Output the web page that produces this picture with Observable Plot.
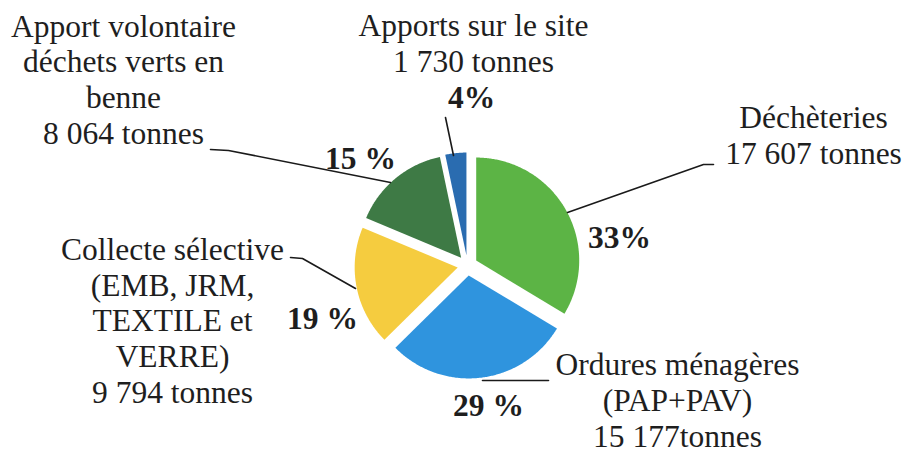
<!DOCTYPE html>
<html><head><meta charset="utf-8">
<script src="https://cdn.jsdelivr.net/npm/d3@7"></script>
<script src="https://cdn.jsdelivr.net/npm/@observablehq/plot@0.6"></script>
<style>body{margin:0;background:#fff}</style>
</head><body><div id="chart"></div>
<script>
// ---- data ----
const categories = [
  "Déchèteries",
  "Ordures ménagères (PAP+PAV)",
  "Collecte sélective (EMB, JRM, TEXTILE et VERRE)",
  "Apport volontaire déchets verts en benne",
  "Apports sur le site"
];
const tonnes = [17607, 15177, 9794, 8064, 1730];
const pctLabels = ["33%", "29 %", "19 %", "15 %", "4%"];
const labelLines = [
  ["Déchèteries", "17 607 tonnes"],
  ["Ordures ménagères", "(PAP+PAV)", "15 177tonnes"],
  ["Collecte sélective", "(EMB, JRM,", "TEXTILE et", "VERRE)", "9 794 tonnes"],
  ["Apport volontaire", "déchets verts en", "benne", "8 064 tonnes"],
  ["Apports sur le site", "1 730 tonnes"]
];
const colors = ["#5cb445", "#2f94de", "#f5cc3f", "#3e7a45", "#2a6cb0"];

// ---- layout ----
const W = 907, H = 453, CX = 467, CY = 265, R = 103, EXPLODE = 10;
const labelPos = [[813, 163], [677, 446], [172, 402], [123, 143], [473, 71]];
const pctPos = [[619, 247], [488, 415], [322, 328], [360, 168], [471, 107]];
const leaders = [
  [[713, 164], [703, 164], [567, 212]],
  [[548, 380], [482, 380]],
  [[290, 257], [302, 258], [355, 288]],
  [[210, 149], [228, 150], [390, 182]],
  [[445, 117], [453, 155]]
];

// ---- build slices ----
const arcs = d3.pie().sort(null).value(d => d)(tonnes);
const slicePts = [];
arcs.forEach((a, i) => {
  const mid = (a.startAngle + a.endAngle) / 2;
  const ox = CX + EXPLODE * Math.sin(mid), oy = CY - EXPLODE * Math.cos(mid);
  slicePts.push({name: categories[i], x: ox, y: oy});
  const n = Math.max(4, Math.ceil((a.endAngle - a.startAngle) / 0.01));
  for (let k = 0; k <= n; k++) {
    const t = a.startAngle + (a.endAngle - a.startAngle) * k / n;
    slicePts.push({name: categories[i], x: ox + R * Math.sin(t), y: oy - R * Math.cos(t)});
  }
});
const leaderPts = leaders.flatMap((pts, i) => pts.map(([x, y]) => ({id: i, x, y})));
const labels = labelLines.map((l, i) => ({text: l.join("\n"), x: labelPos[i][0], y: labelPos[i][1]}));
const pcts = pctLabels.map((t, i) => ({text: t, x: pctPos[i][0], y: pctPos[i][1]}));

const font = "'Liberation Serif', 'Times New Roman', serif";
const chart = Plot.plot({
  width: W, height: H, margin: 0,
  x: {domain: [0, W], range: [0, W], axis: null},
  y: {domain: [0, H], range: [0, H], axis: null},
  color: {domain: categories, range: colors},
  style: {background: "#fff", fontFamily: font},
  marks: [
    Plot.line(slicePts, {x: "x", y: "y", z: "name", fill: "name", stroke: "none", curve: "linear-closed"}),
    Plot.line(leaderPts, {x: "x", y: "y", z: "id", stroke: "#1a1a1a", strokeWidth: 1.6}),
    Plot.text(labels, {x: "x", y: "y", text: "text", lineAnchor: "bottom", lineHeight: 1.13,
      fontSize: 31.5, fill: "#1e1e1e", fontFamily: font}),
    Plot.text(pcts, {x: "x", y: "y", text: "text", lineAnchor: "bottom",
      fontSize: 31.5, fontWeight: "bold", fill: "#1e1e1e", fontFamily: font})
  ]
});
document.getElementById("chart").appendChild(chart);
</script>
</body></html>
